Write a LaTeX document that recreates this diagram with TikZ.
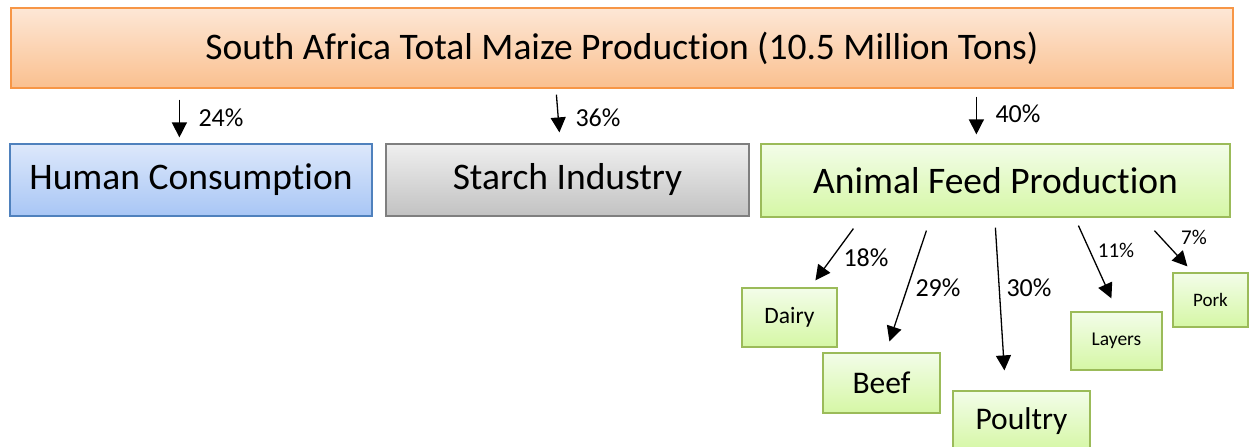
\documentclass[tikz,border=0pt]{standalone}
\usepackage{fontspec}
\setmainfont{Carlito}[Ligatures={NoCommon,NoContextual,NoRare}]
\usetikzlibrary{arrows.meta,calc}
\definecolor{orbord}{HTML}{F79646}
\definecolor{ortop}{HTML}{FDE7D6}
\definecolor{orbot}{HTML}{FAC08F}
\definecolor{blbord}{HTML}{4F81BD}
\definecolor{bltop}{HTML}{DDE8FB}
\definecolor{blbot}{HTML}{A8C6F5}
\definecolor{grbord}{HTML}{7F7F7F}
\definecolor{grtop}{HTML}{EFEFEF}
\definecolor{grbot}{HTML}{C2C2C2}
\definecolor{gnbord}{HTML}{9BBB59}
\definecolor{gntop}{HTML}{F3FDE9}
\definecolor{gnbot}{HTML}{D5F7A5}
\tikzset{
  box/.style={draw, line width=1.2pt, inner sep=0pt, align=center},
  orangebox/.style={box, draw=orbord, top color=ortop, bottom color=orbot},
  bluebox/.style={box, draw=blbord, top color=bltop, bottom color=blbot},
  graybox/.style={box, draw=grbord, top color=grtop, bottom color=grbot},
  greenbox/.style={box, draw=gnbord, top color=gntop, bottom color=gnbot},
  bigtext/.style={font=\fontsize{37.5}{44}\selectfont},
  arr/.style={line width=1.3pt, -{Triangle[length=15pt,width=15pt]}},
  pct/.style={font=\fontsize{26}{30}\selectfont, inner sep=0pt},
  spct/.style={font=\fontsize{21}{24}\selectfont, inner sep=0pt},
}
\begin{document}
\begin{tikzpicture}[x=1pt,y=-1pt]
\useasboundingbox (0,0) rectangle (1259,447);
\node[orangebox, bigtext, minimum width=1222pt, minimum height=80pt] (top) at (622,48) {South Africa Total Maize Production (10.5 Million Tons)};
\node[bluebox, bigtext, minimum width=362pt, minimum height=72pt] (human) at (191,180) {Human Consumption};
\node[graybox, bigtext, minimum width=363pt, minimum height=72pt] (starch) at (567.5,180) {Starch Industry};
\node[greenbox, bigtext, minimum width=469pt, minimum height=73pt] (feed) at (995.5,180.5) {Animal Feed Production};

\node[greenbox, minimum width=95pt, minimum height=59pt, font=\fontsize{23.5}{28}\selectfont] (dairy) at (789.5,317.5) {Dairy};
\node[greenbox, minimum width=117pt, minimum height=60pt, font=\fontsize{31.5}{36}\selectfont] (beef) at (881.5,383) {Beef};
\node[greenbox, minimum width=137pt, minimum height=60pt, font=\fontsize{31.5}{36}\selectfont] (poultry) at (1021.5,421) {Poultry};
\node[greenbox, minimum width=91pt, minimum height=58pt, font=\fontsize{19.5}{23}\selectfont] (layers) at (1116.5,341) {Layers};
\node[greenbox, minimum width=75pt, minimum height=54pt, font=\fontsize{19}{23}\selectfont] (pork) at (1210.5,300) {Pork};

\draw[arr] ($(top.south west)+(169,11)$) -- ($(human.north west)+(170,-6)$);
\draw[arr] ($(top.south west)+(546,6)$) -- ($(starch.north west)+(174,-11)$);
\draw[arr] ($(top.south west)+(966,8)$) -- ($(feed.north west)+(216,-9)$);
\node[pct] (p24) at (221,118) {24\%};
\node[pct] (p36) at (598,118) {36\%};
\node[pct] (p40) at (1018,114) {40\%};

\draw[arr] ($(feed.south west)+(93,11)$) -- ($(dairy.north west)+(74,-7)$);
\draw[arr] ($(feed.south west)+(166,13)$) -- ($(beef.north west)+(67,-11)$);
\draw[arr] ($(feed.south west)+(235,10)$) -- ($(poultry.north west)+(52,-20)$);
\draw[arr] ($(feed.south west)+(318,8)$) -- ($(layers.north west)+(41,-13)$);
\draw[arr] ($(feed.south west)+(394,13)$) -- ($(pork.north west)+(15,-6)$);
\node[pct] (p18) at (866,258) {18\%};
\node[pct] (p29) at (938,288) {29\%};
\node[pct] (p30) at (1029,288) {30\%};
\node[spct] (p11) at (1116,250) {11\%};
\node[spct] (p7) at (1194,237) {7\%};
\end{tikzpicture}
\end{document}
